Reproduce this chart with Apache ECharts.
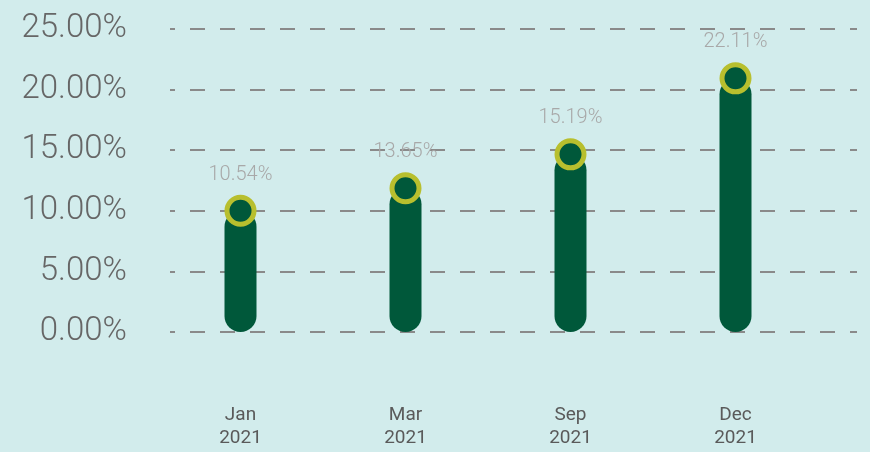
<!DOCTYPE html>
<html>
<head>
<meta charset="utf-8">
<script src="https://cdn.jsdelivr.net/npm/echarts@6/dist/echarts.min.js"></script>
<style>
  html, body { margin: 0; padding: 0; background: #d2ecec; }
  #chart { width: 870px; height: 452px; }
</style>
</head>
<body>
<div id="chart"></div>
<script>
// categories (month / year)
var months = ['Jan\n2021', 'Mar\n2021', 'Sep\n2021', 'Dec\n2021'];
// heights of the bars as drawn in the picture (%)
var barHeights = [10.0, 11.86, 14.66, 20.93];
// values printed above each bar (%)
var labelValues = [10.54, 13.65, 15.19, 22.11];
// y axis range / step (%)
var yMin = 0, yMax = 25, yStep = 5;

var barColor = '#00583a';
var ringColor = '#b8bf2e';

var chart = echarts.init(document.getElementById('chart'));

var option = {
  backgroundColor: '#d2ecec',
  animation: false,
  grid: [
    // grid 0: y axis labels + dashed lines (full width)
    { left: 170, right: 13, top: 29, bottom: 120 },
    // grid 1: bars and x labels
    { left: 158, right: 52, top: 29, bottom: 120 }
  ],
  xAxis: [
    { gridIndex: 0, type: 'category', data: months, show: false },
    {
      gridIndex: 1,
      type: 'category',
      data: months,
      axisLine: { show: false },
      axisTick: { show: false },
      axisLabel: {
        margin: 72,
        color: '#5a5a5a',
        fontFamily: 'Roboto',
        fontSize: 19,
        lineHeight: 23
      }
    }
  ],
  yAxis: [
    {
      gridIndex: 0,
      type: 'value',
      min: yMin,
      max: yMax,
      interval: yStep,
      axisLine: { show: false },
      axisTick: { show: false },
      axisLabel: {
        margin: 43,
        color: '#666666',
        fontFamily: 'Roboto',
        fontWeight: 300,
        fontSize: 33,
        formatter: function (v) { return v.toFixed(2) + '%'; }
      },
      splitLine: {
        lineStyle: {
          color: '#8a8a8a',
          width: 2,
          type: [15, 15],
          dashOffset: 10
        }
      }
    },
    {
      gridIndex: 1,
      type: 'value',
      min: yMin,
      max: yMax,
      interval: yStep,
      show: false,
      splitLine: { show: false }
    }
  ],
  series: [
    {
      type: 'bar',
      xAxisIndex: 1,
      yAxisIndex: 1,
      data: barHeights,
      barWidth: 32,
      itemStyle: { color: barColor, borderRadius: 16 },
      z: 3
    },
    {
      type: 'scatter',
      xAxisIndex: 1,
      yAxisIndex: 1,
      data: barHeights,
      symbol: 'circle',
      symbolSize: 27,
      itemStyle: {
        color: barColor,
        borderColor: ringColor,
        borderWidth: 5,
        opacity: 1
      },
      label: {
        show: true,
        position: 'top',
        distance: 10,
        color: '#a8a8a8',
        fontFamily: 'Roboto',
        fontWeight: 300,
        fontSize: 20,
        formatter: function (p) { return labelValues[p.dataIndex].toFixed(2) + '%'; }
      },
      z: 4
    }
  ]
};

chart.setOption(option);
</script>
</body>
</html>
